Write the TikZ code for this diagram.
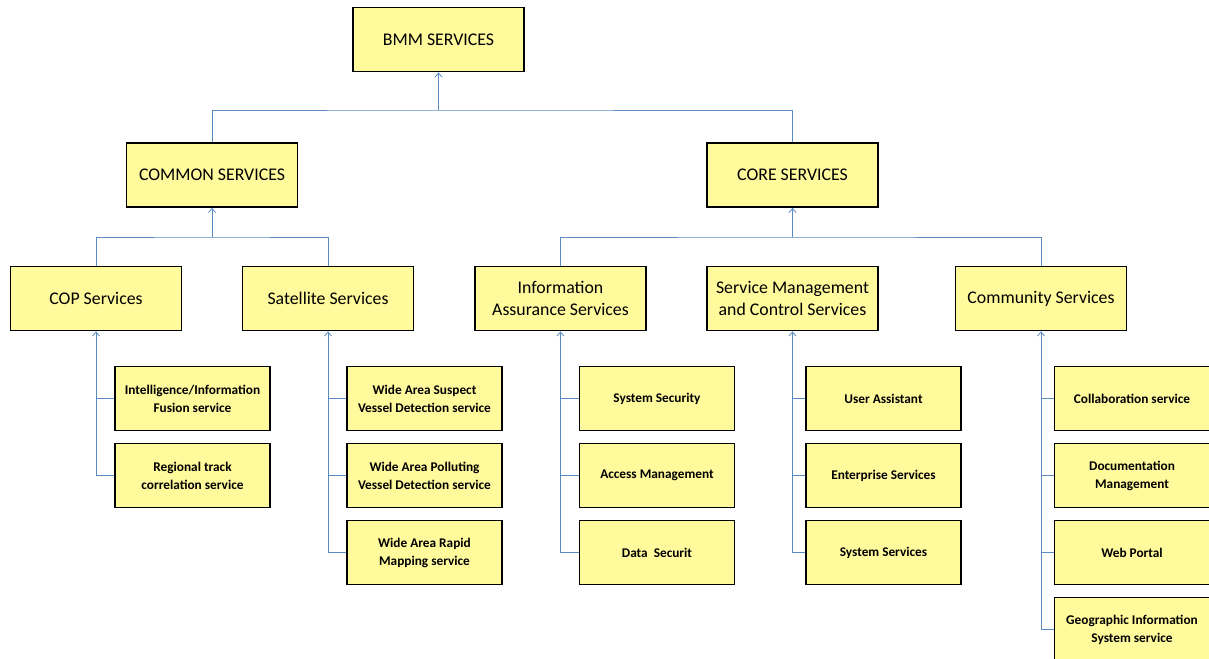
\documentclass[tikz,border=0pt]{standalone}
\usepackage{fontspec}
\setmainfont{Carlito}
\usetikzlibrary{arrows.meta}
\definecolor{boxfill}{HTML}{FFFA9C}
\definecolor{linkblue}{HTML}{5B8BC5}
\tikzset{
  bigbox/.style={draw=black, line width=1.8bp, fill=boxfill, minimum width=171bp, minimum height=64bp, align=center, inner sep=1bp, font=\fontsize{17.8bp}{22bp}\selectfont},
  smallbox/.style={draw=black, line width=1.8bp, fill=boxfill, minimum width=155bp, minimum height=64bp, align=center, inner sep=1bp, font=\fontsize{13.3bp}{18bp}\selectfont\bfseries},
  link/.style={draw=linkblue, line width=0.9bp},
  conn/.style={link, -{Straight Barb[length=4bp, width=7bp, line width=0.8bp]}}
}
\begin{document}
\begin{tikzpicture}[x=1bp, y=-1bp]
\useasboundingbox (0,0) rectangle (1209,659);
\clip (0,0) rectangle (1209,659);
\fill[white] (0,0) rectangle (1209,659);
% top
\node[bigbox] (bmm) at (438.5,39.5) {BMM SERVICES};
\node[bigbox] (common) at (212,175) {COMMON SERVICES};
\node[bigbox] (core) at (792.5,175) {CORE SERVICES};
% level 2
\node[bigbox] (cop) at (96,298.5) {COP Services};
\node[bigbox] (sat) at (328,298.5) {Satellite Services};
\node[bigbox] (info) at (560.5,298.5) {Information\\Assurance Services};
\node[bigbox] (smc) at (792.5,298.5) {Service Management\\and Control Services};
\node[bigbox] (comm) at (1041,298.5) {Community Services};
% level 3: COP
\node[smallbox] (cop1) at (192.5,398.5) {Intelligence/Information\\Fusion service};
\node[smallbox] (cop2) at (192.5,475.5) {Regional track\\correlation service};
% Satellite
\node[smallbox] (sat1) at (424.5,398.5) {Wide Area Suspect\\Vessel Detection service};
\node[smallbox] (sat2) at (424.5,475.5) {Wide Area Polluting\\Vessel Detection service};
\node[smallbox] (sat3) at (424.5,552.5) {Wide Area Rapid\\Mapping service};
% Information assurance
\node[smallbox] (info1) at (657,398.5) {System Security};
\node[smallbox] (info2) at (657,475.5) {Access Management};
\node[smallbox] (info3) at (657,552.5) {Data\ \ Securit};
% Service management
\node[smallbox] (smc1) at (883.5,398.5) {User Assistant};
\node[smallbox] (smc2) at (883.5,475.5) {Enterprise Services};
\node[smallbox] (smc3) at (883.5,552.5) {System Services};
% Community
\node[smallbox] (comm1) at (1132,398.5) {Collaboration service};
\node[smallbox] (comm2) at (1132,475.5) {Documentation\\Management};
\node[smallbox] (comm3) at (1132,552.5) {Web Portal};
\node[smallbox] (comm4) at (1132,629.5) {Geographic Information\\System service};
% buses
\coordinate (bus0) at (438.5,110);
\coordinate (bus1) at (212,237);
\coordinate (bus2) at (792.5,237);
\draw[link] (common.north) |- (bus0) -| (core.north);
\draw[conn] (bus0) -- (bmm.south);
\draw[link] (cop.north) |- (bus1) -| (sat.north);
\draw[conn] (bus1) -- (common.south);
\draw[link] (info.north) |- (bus2) -| (comm.north);
\draw[conn] (bus2) -- (core.south);
% child trees
\draw[conn] (cop2.west) -| (cop.south);
\draw[link] (cop1.west) -- (cop1.west -| cop.south);
\draw[conn] (sat3.west) -| (sat.south);
\draw[link] (sat1.west) -- (sat1.west -| sat.south);
\draw[link] (sat2.west) -- (sat2.west -| sat.south);
\draw[conn] (info3.west) -| (info.south);
\draw[link] (info1.west) -- (info1.west -| info.south);
\draw[link] (info2.west) -- (info2.west -| info.south);
\draw[conn] (smc3.west) -| (smc.south);
\draw[link] (smc1.west) -- (smc1.west -| smc.south);
\draw[link] (smc2.west) -- (smc2.west -| smc.south);
\draw[conn] (comm4.west) -| (comm.south);
\draw[link] (comm1.west) -- (comm1.west -| comm.south);
\draw[link] (comm2.west) -- (comm2.west -| comm.south);
\draw[link] (comm3.west) -- (comm3.west -| comm.south);
\end{tikzpicture}
\end{document}
